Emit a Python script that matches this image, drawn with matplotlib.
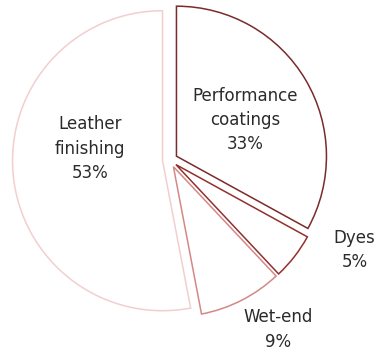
import matplotlib.pyplot as plt
import numpy as np

# Segment shares
segments = ['Performance\ncoatings', 'Dyes', 'Wet-end', 'Leather\nfinishing']
shares = [33, 5, 9, 53]
edge_colors = ['#7a2b2b', '#93302f', '#d38886', '#f2cfcf']

# label placement: (angle in degrees, distance from centre)
label_pos = [(28, 0.57), (-26, 1.37), (-57.5, 1.34), (172, 0.54)]

fig = plt.figure(figsize=(3.77, 3.51), dpi=100)
ax = fig.add_axes([20 / 377, 41 / 351, 300 / 377, 300 / 351])

wedges, _ = ax.pie(
    shares,
    startangle=90,
    counterclock=False,
    explode=[0.05] * len(shares),
    colors=['white'] * len(shares),
    wedgeprops=dict(linewidth=1.1),
)
for w, c in zip(wedges, edge_colors):
    w.set_edgecolor(c)
    w.set_clip_on(False)

for name, val, (ang, r) in zip(segments, shares, label_pos):
    a = np.deg2rad(ang)
    ax.text(r * np.cos(a), r * np.sin(a), f'{name}\n{val}%',
            ha='center', va='center', fontsize=12, color='#2b2b2b',
            linespacing=1.45, family='DejaVu Sans')

ax.set_xlim(-1, 1)
ax.set_ylim(-1, 1)
ax.set_aspect('auto')
ax.axis('off')

fig.savefig('out.png', dpi=100)
